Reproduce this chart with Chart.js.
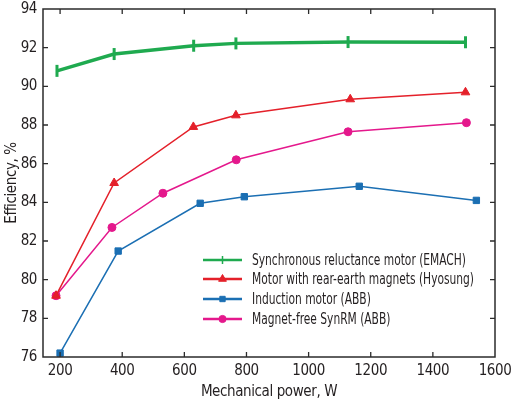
<!DOCTYPE html>
<html><head><meta charset="utf-8">
<script src="https://cdn.jsdelivr.net/npm/chart.js@4/dist/chart.umd.min.js"></script>
<style>html,body{margin:0;padding:0;background:#fff}#wrap{width:512px;height:405px;position:relative}</style>
</head><body><div id="wrap"><canvas id="c" width="512" height="405"></canvas></div>
<script>
const seriesNames = ["Synchronous reluctance motor (EMACH)","Motor with rear-earth magnets (Hyosung)","Induction motor (ABB)","Magnet-free SynRM (ABB)"];
const powerEMACH = [190, 374, 630, 766, 1127, 1505];
const effEMACH = [90.8, 91.67, 92.1, 92.22, 92.29, 92.28];
const powerHyosung = [187, 374, 629, 766, 1134, 1505];
const effHyosung = [79.17, 85.0, 87.9, 88.5, 89.33, 89.69];
const powerInduction = [200, 387, 651, 793, 1163, 1540];
const effInduction = [76.2, 81.48, 83.95, 84.29, 84.83, 84.1];
const powerSynRM = [187, 367, 531, 767, 1127, 1508];
const effSynRM = [79.17, 82.7, 84.47, 86.2, 87.65, 88.12];
const xTicks = [200,400,600,800,1000,1200,1400,1600];
const yTicks = [76,78,80,82,84,86,88,90,92,94];

const FONT = "'Liberation Sans Narrow','DejaVu Sans Condensed','Roboto Condensed',sans-serif";
const pts = (xs, ys) => xs.map((x,i)=>({x:x,y:ys[i]}));

const legendMarks = [
  {style:'line', rotation:90, radius:4, width:1.5},
  {style:'triangle', rotation:0, radius:4.5, width:1},
  {style:'rect', rotation:0, radius:3.8, width:1},
  {style:'circle', rotation:0, radius:3.6, width:1}
];

const frame = {
  id:'frame',
  beforeDraw(chart){ chart.ctx.letterSpacing = '-0.4px'; },
  afterDatasetsDraw(chart){
    const ctx = chart.ctx, a = chart.chartArea;
    const xs = chart.scales.x, ys = chart.scales.y;
    ctx.save();
    ctx.letterSpacing = '0px';
    ctx.strokeStyle = '#2b2b2b'; ctx.lineWidth = 1.5;
    ctx.strokeRect(a.left, a.top, a.right-a.left, a.bottom-a.top);
    ctx.lineWidth = 1.3;
    ctx.beginPath();
    xTicks.forEach(v=>{const p = xs.getPixelForValue(v);
      if (p>a.left+1 && p<a.right-1){ctx.moveTo(p,a.bottom);ctx.lineTo(p,a.bottom-5);ctx.moveTo(p,a.top);ctx.lineTo(p,a.top+5);}});
    yTicks.forEach(v=>{const p = ys.getPixelForValue(v);
      if (p>a.top+1 && p<a.bottom-1){ctx.moveTo(a.left,p);ctx.lineTo(a.left+5,p);ctx.moveTo(a.right,p);ctx.lineTo(a.right-5,p);}});
    ctx.stroke();
    // legend
    const x0 = a.left + 160, x1 = a.left + 199, tx = a.left + 209;
    const rowY = [251, 270, 290, 310].map(v=>v + a.top);
    ctx.font = "16px " + FONT;
    const sx = Math.min(1, 214 / ctx.measureText(seriesNames[0]).width);
    chart.data.datasets.forEach((ds,i)=>{
      const y = rowY[i], m = legendMarks[i];
      ctx.strokeStyle = ds.borderColor; ctx.fillStyle = ds.backgroundColor; ctx.lineWidth = 2.6;
      ctx.beginPath(); ctx.moveTo(x0,y); ctx.lineTo(x1,y); ctx.stroke();
      ctx.lineWidth = m.width;
      Chart.helpers.drawPoint(ctx, {pointStyle: m.style, rotation: m.rotation, radius: m.radius, borderWidth: m.width}, (x0+x1)/2, y);
      ctx.save();
      ctx.fillStyle = '#231f20';
      ctx.font = "16px " + FONT;
      ctx.textBaseline = 'middle'; ctx.textAlign = 'left';
      ctx.translate(tx, y+1); ctx.scale(sx, 1);
      ctx.fillText(seriesNames[i], 0, 0);
      ctx.restore();
    });
    ctx.restore();
  }
};

new Chart(document.getElementById('c'), {
  type: 'line',
  data: { datasets: [
    {label: seriesNames[0], data: pts(powerEMACH, effEMACH), borderColor:'#1faa4f', backgroundColor:'#1faa4f', borderWidth:3.4, pointStyle:'line', pointRotation:90, pointRadius:6, pointBorderWidth:3, order:0},
    {label: seriesNames[1], data: pts(powerHyosung, effHyosung), borderColor:'#e4202a', backgroundColor:'#e4202a', borderWidth:1.5, pointStyle:'triangle', pointRadius:5, pointBorderWidth:1, order:1},
    {label: seriesNames[2], data: pts(powerInduction, effInduction), borderColor:'#1b6fb3', backgroundColor:'#1b6fb3', borderWidth:1.5, pointStyle:'rect', pointRadius:4.5, pointBorderWidth:1, order:3},
    {label: seriesNames[3], data: pts(powerSynRM, effSynRM), borderColor:'#e4188c', backgroundColor:'#e4188c', borderWidth:1.5, pointStyle:'circle', pointRadius:4, pointBorderWidth:1, order:2}
  ]},
  options: {
    responsive:false, animation:false, clip:false,
    layout:{padding:{top:9,right:17,left:0,bottom:0}},
    plugins:{legend:{display:false}, tooltip:{enabled:false}},
    elements:{line:{tension:0}},
    scales:{
      x:{type:'linear', min:145, max:1600,
        afterBuildTicks(s){s.ticks = xTicks.map(v=>({value:v}));},
        afterFit(s){s.height = 48; s.paddingLeft = 0; s.paddingRight = 0;},
        grid:{display:false, drawTicks:false}, border:{display:false},
        ticks:{padding:5, color:'#231f20', font:{family:FONT, size:15}, maxRotation:0, autoSkip:false, callback:v=>String(v)},
        title:{display:true, text:'Mechanical power, W', color:'#231f20', font:{family:FONT, size:15}, padding:{top:0,bottom:4}}},
      y:{type:'linear', min:76, max:94,
        afterBuildTicks(s){s.ticks = yTicks.map(v=>({value:v}));},
        afterFit(s){s.width = 43; s.paddingTop = 0; s.paddingBottom = 0;},
        grid:{display:false, drawTicks:false}, border:{display:false},
        ticks:{padding:6, color:'#231f20', font:{family:FONT, size:15}, autoSkip:false, callback:v=>String(v)},
        title:{display:true, text:'Efficiency, %', color:'#231f20', font:{family:FONT, size:15}, padding:{top:3,bottom:0}}}
    }
  },
  plugins:[frame]
});
</script></body></html>
